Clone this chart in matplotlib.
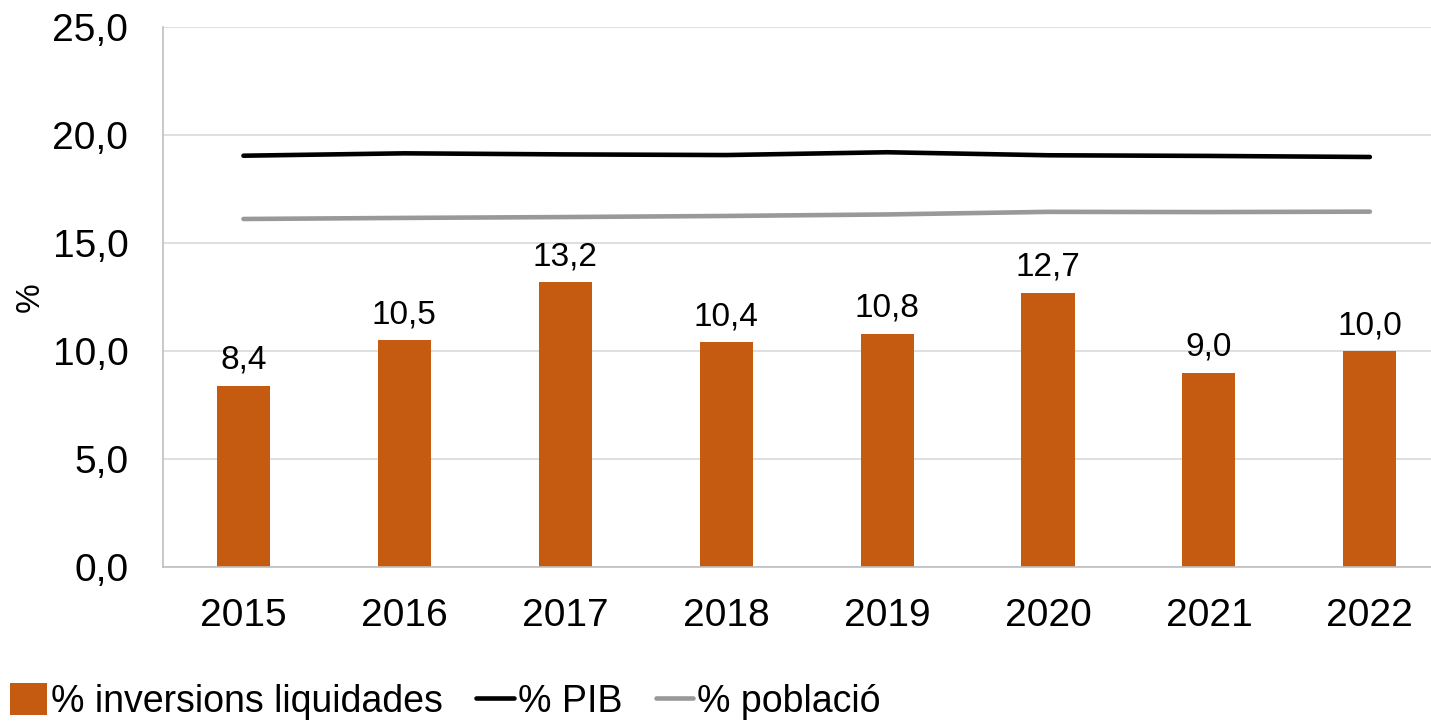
import numpy as np
import matplotlib.pyplot as plt

plt.rcParams['font.family'] = ['Liberation Sans', 'DejaVu Sans']

# data
years = ['2015', '2016', '2017', '2018', '2019', '2020', '2021', '2022']
inversions = [8.4, 10.5, 13.2, 10.4, 10.8, 12.7, 9.0, 10.0]
pib = [19.04, 19.15, 19.1, 19.07, 19.2, 19.06, 19.03, 18.98]
poblacio = [16.11, 16.16, 16.2, 16.25, 16.32, 16.44, 16.43, 16.45]

bar_color = '#C55A11'
x = np.arange(len(years))

fig = plt.figure(figsize=(14.31, 7.25), dpi=100)
ax = fig.add_axes([0.1139, 0.218, 0.8861, 0.7448])

ax.bar(x, inversions, width=0.33, color=bar_color, label='% inversions liquidades', zorder=2)
ax.plot(x, pib, color='black', lw=3.3, solid_capstyle='round', label='% PIB', zorder=3)
ax.plot(x, poblacio, color='#999999', lw=3.3, solid_capstyle='round', label='% població', zorder=3)

for xi, v in zip(x, inversions):
    ax.text(xi, v + 0.45, f'{v:.1f}'.replace('.', ','), ha='center', va='bottom', fontsize=24)

ax.set_ylim(0, 25)
ax.set_xlim(-0.5, 7.38)
ax.set_yticks(np.arange(0, 26, 5))
ax.set_yticklabels([f'{t:.1f}'.replace('.', ',') for t in np.arange(0, 26, 5)])
ax.set_xticks(x)
ax.set_xticklabels(years)
ax.tick_params(axis='both', length=0, labelsize=28)
ax.tick_params(axis='y', pad=25)
ax.tick_params(axis='x', pad=22)
ax.grid(axis='y', color='#d9d9d9', lw=1.2, zorder=0)
ax.set_axisbelow(True)
for s in ['top', 'right']:
    ax.spines[s].set_visible(False)
for s in ['left', 'bottom']:
    ax.spines[s].set_color('#bfbfbf')
    ax.spines[s].set_linewidth(1.2)

fig.text(0.021, 0.59, '%', rotation=90, fontsize=24, va='center', ha='center')

handles, labels = ax.get_legend_handles_labels()
order = [2, 0, 1]
fig.legend([handles[i] for i in order], [labels[i] for i in order],
           loc='lower left', bbox_to_anchor=(-0.009, -0.024), ncol=3, frameon=False,
           fontsize=27, handlelength=1.0, handleheight=0.9, handletextpad=0.1,
           columnspacing=0.9, borderaxespad=0.2)

fig.savefig('out.png', dpi=100)
